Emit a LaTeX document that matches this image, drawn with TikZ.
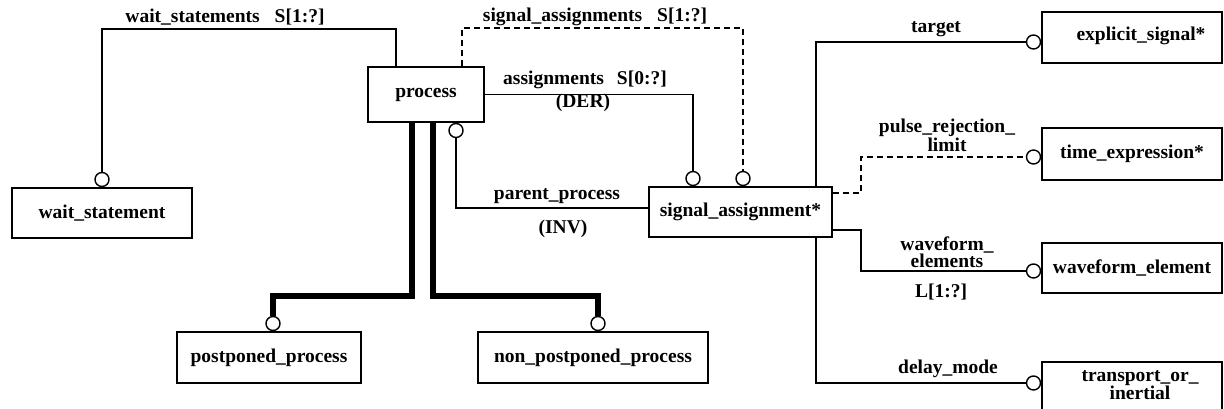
\documentclass[tikz,border=0pt]{standalone}
\usepackage{fontspec}
\setmainfont{Liberation Serif}
\begin{document}
\begin{tikzpicture}[x=1pt,y=-1pt,
  font=\fontsize{19.5}{21}\selectfont\bfseries,
  box/.style={draw, line width=1.6pt, rectangle, inner sep=0pt, align=center},
  ring/.style={draw, circle, fill=white, line width=1.4pt, minimum size=14pt, inner sep=0pt},
  link/.style={line width=1.4pt},
  optlink/.style={line width=1.4pt, dash pattern=on 6pt off 4pt},
  heavy/.style={line width=6pt},
  lbl/.style={inner sep=0pt, align=center},
  twoline/.style={lbl, font=\fontsize{19.5}{#1}\selectfont\bfseries}]

\fill[white] (0,0) rectangle (1224,409);
\useasboundingbox (0,0) rectangle (1224,409);
\clip (0,0) rectangle (1224,409);

% entity boxes
\node[box, minimum width=116, minimum height=55] (process) at (426,94.5) {process};
\node[box, minimum width=180, minimum height=50] (wait) at (102,213) {\raisebox{2pt}{wait\_statement}};
\node[box, minimum width=183, minimum height=50] (sigA) at (740.5,212) {\raisebox{3pt}{signal\_assignment*}};
\node[box, minimum width=184, minimum height=51] (post) at (269,357.5) {postponed\_process};
\node[box, minimum width=230, minimum height=51] (nonpost) at (593,357.5) {non\_postponed\_process};
\node[box, minimum width=180, minimum height=51] (expl) at (1132,37.5) {\hspace*{18pt}\raisebox{7pt}{explicit\_signal*}};
\node[box, minimum width=180, minimum height=52] (texp) at (1132,154) {\raisebox{3pt}{time\_expression*}};
\node[box, minimum width=180, minimum height=50] (wave) at (1132,268) {waveform\_element};
\node[box, minimum width=180, minimum height=56] (trans) at (1132,390) {};
\node[twoline=13] (transtext) at (1140,385) {transport\_or\_\\inertial};

% optionality rings
\node[ring, anchor=south] (rw) at (wait.north) {};
\node[ring, anchor=south] (ra) at ([xshift=-47.5]sigA.north) {};
\node[ring, anchor=south] (rs) at ([xshift=2.5]sigA.north) {};
\node[ring, anchor=north] (rp) at ([xshift=30]process.south) {};
\node[ring, anchor=south] (rpost) at ([xshift=4]post.north) {};
\node[ring, anchor=south] (rnon) at ([xshift=5]nonpost.north) {};
\node[ring, anchor=east] (rt) at ([yshift=-4.5]expl.west) {};
\node[ring, anchor=east] (rte) at ([yshift=-3]texp.west) {};
\node[ring, anchor=east] (rwv) at ([yshift=-3]wave.west) {};
\node[ring, anchor=east] (rtr) at ([yshift=7]trans.west) {};

% relations
\draw[link] ([xshift=-30]process.north) |- (rw |- 0,29) -- (rw.north);
\draw[optlink] ([xshift=36]process.north) |- (rs |- 0,28) -- (rs.north);
\draw[link] (process.east) -| (ra.north);
\draw[link] (rp.south) |- ([yshift=4]sigA.west);
\draw[heavy] ([xshift=-14]process.south) |- (rpost |- 0,296) -- (rpost.north);
\draw[heavy] ([xshift=7]process.south) |- (rnon |- 0,296) -- (rnon.north);
\draw[link] ([xshift=75.5]sigA.north) |- (rt.west);
\draw[optlink] ([yshift=19]sigA.east) -- ++(28,0) |- (rte.west);
\draw[link] ([yshift=-18]sigA.east) -- ++(28,0) |- (rwv.west);
\draw[link] ([xshift=75.5]sigA.south) |- (rtr.west);

% relation labels
\node[lbl] (l1) at (225,17) {wait\_statements\hspace{15pt}S[1:?]};
\node[lbl] (l2) at (595,17) {signal\_assignments\hspace{15pt}S[1:?]};
\node[lbl] (l3) at (585,80) {assignments\hspace{13pt}S[0:?]};
\node[lbl] (l4) at (583,103) {(DER)};
\node[lbl] (l5) at (557,196) {parent\_process};
\node[lbl] (l6) at (563,229) {(INV)};
\node[lbl] (l7) at (936,29) {target};
\node[twoline=13] (l8) at (947,135) {pulse\_rejection\_\\limit};
\node[twoline=11] (l9) at (947,252) {waveform\_\\elements};
\node[lbl] (l10) at (941,292) {L[1:?]};
\node[lbl] (l11) at (948,369) {delay\_mode};
\end{tikzpicture}
\end{document}
